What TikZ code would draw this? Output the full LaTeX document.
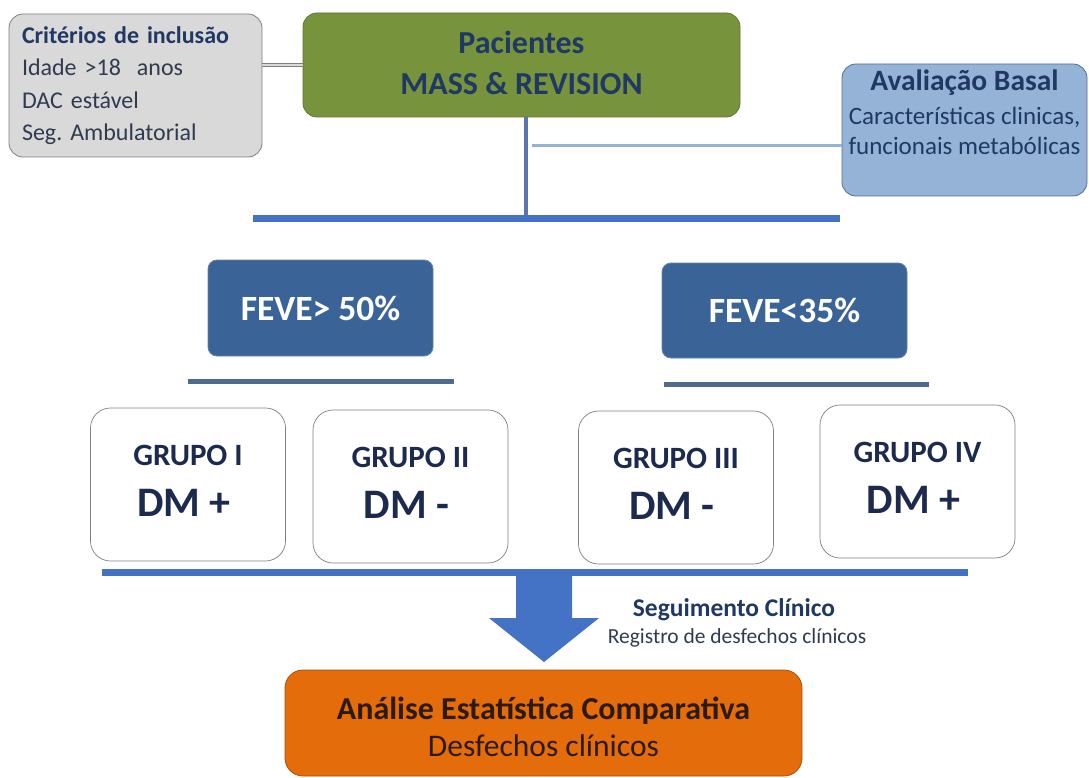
\documentclass[tikz,border=0pt]{standalone}
\usepackage{fontspec}
\setmainfont{Carlito}
\usepackage{xcolor}
\usetikzlibrary{positioning}
\frenchspacing

\definecolor{grisclair}{HTML}{D9D9D9}
\definecolor{grisbord}{HTML}{7F7F7F}
\definecolor{ardoise}{HTML}{2F3B4F}
\definecolor{marine}{HTML}{1F3864}
\definecolor{encre}{HTML}{1C2A4D}
\definecolor{vertpac}{HTML}{77933C}
\definecolor{vertbord}{HTML}{5E7530}
\definecolor{bleuclair}{HTML}{95B3D7}
\definecolor{bleubord}{HTML}{4F6F99}
\definecolor{tigeblue}{HTML}{5A75B0}
\definecolor{barreblue}{HTML}{4472C4}
\definecolor{lignegris}{HTML}{50698F}
\definecolor{feveblue}{HTML}{3A6497}
\definecolor{orangeA}{HTML}{E46C0A}
\definecolor{orangebord}{HTML}{A65008}
\definecolor{brunfonce}{HTML}{2B1A0E}

\begin{document}
\begin{tikzpicture}[x=1pt, y=-1pt,
  boite/.style={draw, line width=0.8pt, rounded corners=14pt, inner sep=0pt},
  feve/.style={boite, fill=feveblue, draw=feveblue!80!white, rounded corners=9pt, text=white, font=\fontsize{35.5}{40}\selectfont\bfseries},
  grupo/.style={boite, fill=white, draw=grisbord, line width=0.7pt, rounded corners=20pt, minimum width=195, minimum height=153},
  grpt/.style={text=encre, font=\fontsize{31}{34}\selectfont\bfseries},
  dmt/.style={text=encre, font=\fontsize{42}{46}\selectfont\bfseries},
  barre/.style={line width=7pt, draw=barreblue},
  souligne/.style={line width=5pt, draw=lignegris}]

  % Fixez le cadre
  \useasboundingbox (0,0) rectangle (1089,778);

  % Dessinez les boites du haut
  \node[boite, fill=grisclair, draw=grisbord, minimum width=253, minimum height=143, text width=227, align=left, text=ardoise, font=\fontsize{24}{32.5}\selectfont] (crit) at (135.5,85.5) {\textbf{\textcolor{marine}{Critérios de inclusão}}\\Idade >18~ anos\\DAC estável\\Seg. Ambulatorial};
  \node[boite, fill=vertpac, draw=vertbord, minimum width=437, minimum height=104] (pac) at (521.5,65) {};
  \node[align=center, text=marine, font=\fontsize{32}{41}\selectfont\bfseries] (pactxt) at ([yshift=2.5pt]pac.center) {Pacientes\\MASS \& REVISION};
  \node[boite, fill=bleuclair, draw=bleubord, minimum width=245, minimum height=132] (aval) at (964.5,130) {};
  \node[align=center, text=marine, font=\fontsize{25}{30}\selectfont] (avaltxt) at ([yshift=18pt]aval.center) {{\fontsize{29.5}{30}\selectfont\bfseries Avaliação Basal}\\[4pt]Características clinicas,\\funcionais metabólicas};

  % Ajoutez les liaisons du haut
  \coordinate (hautg) at (253,218);
  \coordinate (hautd) at (840,218);
  \coordinate (pacpied) at ([xshift=4.5pt]pac.south);
  \draw[draw=grisbord, line width=1pt, double=grisclair, double distance=1.5pt] (crit.east |- pac.west) -- (pac.west);
  \draw[line width=4pt, tigeblue] (pacpied) -- (pacpied |- hautg);
  \draw[line width=3pt, bleuclair] ([xshift=6pt]pacpied |- 0,146) -- (aval.west |- 0,146);
  \draw[barre] (hautg) -- (hautd);

  % Dessinez les boites FEVE
  \node[feve, minimum width=225, minimum height=96] (feveA) at (320.5,308) {FEVE> 50\%};
  \node[feve, minimum width=245, minimum height=95] (feveB) at (784.5,310.5) {FEVE<35\%};
  \draw[souligne] (188,381) -- (454,381);
  \draw[souligne] (664,384) -- (929,384);

  % Dessinez les groupes
  \foreach \x/\yy/\n/\g/\sg in {188/484.5/g1/I/+, 410.5/486.5/g2/II/-, 676/487.5/g3/III/-, 917.5/481.5/g4/IV/+} {
    \node[grupo] (\n) at (\x,\yy) {};
    \node[grpt] (\n-t) at ([yshift=29.5pt]\n.center) {GRUPO \g};
    \node[dmt] (\n-d) at ([xshift=-4pt, yshift=-18.5pt]\n.center) {DM \sg};
  }
  \draw[barre] (102,572) -- (968,572);

  % Ajoutez la fleche et le suivi
  \fill[barreblue] (516,576) -- (572,576) -- (572,618) -- (599,618) -- (544,662) -- (489,618) -- (516,618) -- cycle;
  \node[text=marine, font=\fontsize{25.5}{28}\selectfont\bfseries] (seg) at (734,610) {Seguimento Clínico};
  \node[text=ardoise, font=\fontsize{21.5}{24}\selectfont] (reg) at (737,638) {Registro de desfechos clínicos};

  % Dessinez la boite finale
  \node[boite, fill=orangeA, draw=orangebord, rounded corners=18pt, minimum width=517, minimum height=106] (ana) at (543.5,723) {};
  \node[align=center, text=brunfonce, font=\fontsize{32}{37}\selectfont] (anatxt) at ([yshift=-4pt]ana.center) {\textbf{Análise Estatística Comparativa}\\{\fontsize{31.5}{37}\selectfont Desfechos clínicos}};
\end{tikzpicture}
\end{document}
